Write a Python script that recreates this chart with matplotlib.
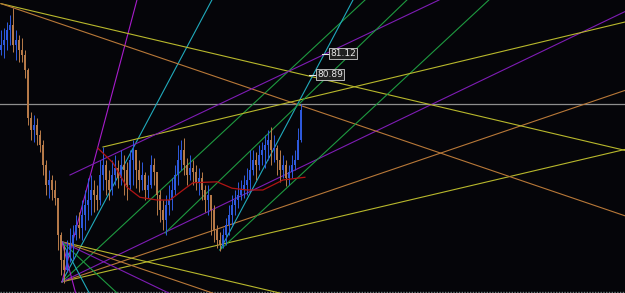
import matplotlib
matplotlib.use('Agg')
import matplotlib.pyplot as plt

# ---- candle data (bar index = position, prices) ----
closes = [81.22, 81.27, 81.38, 81.44, 81.22, 81.27, 81.16, 81.11, 80.94, 80.41,
          80.28, 80.34, 80.23, 80.12, 79.90, 79.68, 79.73, 79.62, 79.53, 79.13,
          78.85, 78.74, 78.96, 79.02, 79.13, 79.24, 79.20, 79.35, 79.46, 79.51,
          79.62, 79.57, 79.51, 79.79, 79.90, 79.73, 79.62, 79.79, 79.86, 79.75,
          79.90, 79.84, 79.68, 79.95, 80.06, 79.84, 79.73, 79.79, 79.62, 79.68,
          79.90, 79.82, 79.57, 79.40, 79.29, 79.46, 79.51, 79.62, 79.79, 79.95,
          80.06, 79.90, 79.79, 79.86, 79.82, 79.71, 79.75, 79.62, 79.51, 79.57,
          79.40, 79.18, 79.07, 79.02, 79.13, 79.24, 79.35, 79.46, 79.51, 79.57,
          79.62, 79.68, 79.73, 79.84, 79.95, 79.90, 80.00, 80.06, 80.12, 80.17,
          80.06, 80.08, 79.95, 79.84, 79.90, 79.75, 79.82, 79.90, 79.95, 80.17,
          80.50]
highs = [81.38, 81.40, 81.47, 81.55, 81.62, 81.38, 81.33, 81.29, 81.16, 80.96,
         80.48, 80.45, 80.41, 80.28, 80.17, 79.95, 79.84, 79.79, 79.73, 79.24,
         79.16, 79.02, 79.07, 79.20, 79.24, 79.35, 79.38, 79.51, 79.62, 79.75,
         79.79, 79.73, 79.68, 79.95, 80.09, 79.95, 79.84, 79.95, 80.00, 79.95,
         80.06, 80.00, 79.93, 80.06, 80.17, 80.00, 79.95, 79.93, 79.82, 79.79,
         80.00, 79.97, 79.79, 79.62, 79.51, 79.57, 79.68, 79.75, 79.90, 80.12,
         80.17, 80.19, 79.97, 80.00, 79.95, 79.90, 79.86, 79.82, 79.68, 79.68,
         79.57, 79.46, 79.24, 79.16, 79.20, 79.31, 79.46, 79.57, 79.62, 79.71,
         79.73, 79.79, 79.86, 80.06, 80.06, 80.04, 80.12, 80.15, 80.23, 80.28,
         80.31, 80.23, 80.12, 80.06, 80.00, 79.95, 79.90, 80.00, 80.06, 80.30,
         80.57]
lows = [81.11, 81.07, 81.16, 81.22, 81.14, 81.05, 81.03, 81.03, 80.85, 80.34,
        80.17, 80.15, 80.12, 80.04, 79.79, 79.57, 79.53, 79.51, 79.46, 78.96,
        78.69, 78.60, 78.72, 78.83, 78.85, 79.07, 79.09, 79.07, 79.18, 79.29,
        79.35, 79.38, 79.40, 79.46, 79.62, 79.57, 79.51, 79.57, 79.68, 79.64,
        79.68, 79.57, 79.51, 79.62, 79.68, 79.64, 79.60, 79.62, 79.51, 79.53,
        79.64, 79.68, 79.35, 79.27, 79.18, 79.13, 79.35, 79.40, 79.57, 79.68,
        79.84, 79.79, 79.68, 79.73, 79.68, 79.62, 79.57, 79.51, 79.38, 79.35,
        79.13, 79.05, 78.98, 78.95, 78.98, 79.02, 79.13, 79.24, 79.35, 79.42,
        79.51, 79.53, 79.57, 79.62, 79.79, 79.73, 79.84, 79.90, 79.86, 79.95,
        79.90, 79.93, 79.79, 79.71, 79.75, 79.66, 79.68, 79.75, 79.84, 79.97,
        80.15]
first_open = 81.16

# ---- moving average ----
ma_bars = [32.3, 37.3, 42.0, 46.3, 52.0, 56.3, 60.7, 64.0, 72.0, 77.0, 82.0, 87.3, 94.0, 101.3]
ma_vals = [80.08, 79.92, 79.65, 79.54, 79.51, 79.51, 79.62, 79.70, 79.71, 79.64, 79.62, 79.62, 79.73, 79.76]

# ---- Gann fan definitions ----
fan_slopes = [0.00776, 0.01122, 0.01584, 0.03069, 0.06204, 0.12408]   # price per bar
fan_colors = ['#b8b82c', '#b87838', '#7e1cb4', '#1e9a40', '#20aabc', '#a81ccc']
fan_up_anchor = (20.33, 78.61)      # fan rising from the lower pivot
fan_dn_anchor = (20.33, 79.05)      # fan falling from the upper pivot
fan_top_anchor = (0.0, 81.67)       # fan falling from the top-left high
fan_top_members = [0, 1]
fan_low2_anchor = (73.0, 78.96)     # fan rising from the second low
fan_low2_members = [3, 4]

# ---- extra trendlines: (bar0, price0, bar1, price1, colour) ----
trend_b0 = [34.0, 23.0, 54.7]
trend_p0 = [80.093, 79.785, 79.147]
trend_b1 = [208.0, 146.0, 135.3]
trend_p1 = [81.468, 81.71, 81.71]
trend_col = ['#b8b82c', '#7e1cb4', '#1e9a40']

hline_price = 80.57
labels = ['81.12', '80.89']
label_prices = [81.12, 80.89]
label_bars = [109.8, 105.4]
leader_bars = [107.0, 102.8]

x_end = 208.0
bg = '#050509'

fig = plt.figure(figsize=(6.25, 2.93), dpi=100)
fig.patch.set_facecolor(bg)
ax = fig.add_axes([0, 0, 1, 1])
ax.set_facecolor(bg)
ax.set_xlim(-0.33, 208.0)
ax.set_ylim(78.487, 81.71)
ax.set_xticks([]); ax.set_yticks([])
for s in ax.spines.values():
    s.set_visible(False)

lw = 0.8
# horizontal line
ax.axhline(hline_price, color='#8e8e8e', lw=0.9, zorder=1)

def fan(anchor, members, sign):
    b0, p0 = anchor
    for k in members:
        p1 = p0 + sign * fan_slopes[k] * (x_end - b0)
        ax.plot([b0, x_end], [p0, p1], color=fan_colors[k], lw=lw, zorder=2)

fan(fan_up_anchor, range(6), 1)
fan(fan_dn_anchor, range(6), -1)
fan(fan_top_anchor, fan_top_members, -1)
fan(fan_low2_anchor, fan_low2_members, 1)

for b0, p0, b1, p1, c in zip(trend_b0, trend_p0, trend_b1, trend_p1, trend_col):
    ax.plot([b0, b1], [p0, p1], color=c, lw=lw, zorder=2)

# candles
opens = [first_open] + closes[:-1]
for i, (o, h, l, c) in enumerate(zip(opens, highs, lows, closes)):
    col = '#2f5be0' if c >= o else '#b97c4a'
    ax.vlines(i, l, h, color=col, lw=0.7, zorder=3)
    ax.vlines(i, min(o, c), max(o, c), color=col, lw=1.4, zorder=3)

# moving average
ax.plot(ma_bars, ma_vals, color='#b01414', lw=0.9, zorder=4)

# price tags
for t, p, b, lb in zip(labels, label_prices, label_bars, leader_bars):
    ax.plot([lb, b], [p, p], color='#e8e8e8', lw=0.8, zorder=5)
    ax.text(b, p, t, fontsize=6.5, color='#e8e8e8', va='center', ha='left', zorder=6,
            bbox=dict(boxstyle='square,pad=0.15', fc='#202020', ec='#d0d0d0', lw=0.6))

# bottom dotted strip
ax.axhline(78.50, color='#6a7a7a', lw=1.0, ls=(0, (1, 1)), zorder=1)

fig.savefig('out.png', dpi=100, facecolor=bg)
